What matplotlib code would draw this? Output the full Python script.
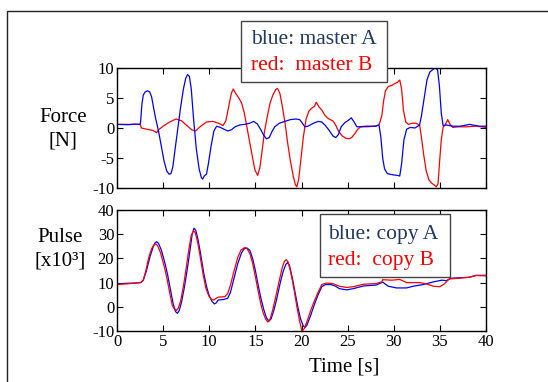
import matplotlib
matplotlib.use("Agg")
import matplotlib.pyplot as plt
from matplotlib.patches import Rectangle

# ---------------- data ----------------
force_a_t = [0, 1.2, 2.0, 2.5, 2.56, 2.7, 2.85, 3.05, 3.3, 3.55, 3.75, 3.95, 4.2, 4.5, 4.8, 5.1,
             5.4, 5.65, 5.85, 6.05, 6.3, 6.6, 6.9, 7.2, 7.45, 7.65, 7.85, 8.05, 8.3, 8.6, 8.9,
             9.15, 9.3, 9.45, 9.7, 9.9, 10.2, 10.5, 10.8, 11.2, 11.6, 12.0, 12.4, 12.8, 13.3,
             13.8, 14.4, 14.8, 15.2, 15.6, 15.9, 16.2, 16.5, 16.8, 17.1, 17.6, 18.2, 18.8,
             19.4, 19.8, 20.1, 20.36, 20.7, 21.3, 21.8, 22.2, 22.6, 23.0, 23.4, 23.7, 24.0,
             24.3, 24.7, 25.1, 25.4, 25.7, 26.0, 26.3, 27.0, 28.0, 28.4, 28.6, 28.8, 29.0,
             29.3, 29.9, 30.4, 30.65, 30.85, 31.1, 31.4, 31.8, 32.3, 32.8, 33.0, 33.3, 33.6,
             33.9, 34.2, 34.5, 34.75, 34.95, 35.15, 35.35, 35.7, 36.4, 37.2, 38.2, 39.3, 40.0]
force_a_v = [0.6, 0.55, 0.65, 0.6, 1.0, 4.0, 5.5, 6.0, 6.2, 6.0, 5.2, 3.5, 1.5, -0.5, -3.0, -5.5,
             -7.2, -7.7, -7.6, -6.5, -3.5, 0.0, 3.5, 6.5, 8.3, 8.9, 8.6, 6.5, 1.5, -3.5, -6.8,
             -8.3, -8.5, -8.0, -7.7, -6.0, -3.0, -0.5, 0.3, 0.1, -0.2, -0.5, -0.3, 0.2, 0.5,
             0.6, 0.8, 1.1, 0.7, -0.3, -1.2, -1.8, -1.6, -0.6, 0.2, 0.8, 1.1, 1.4,
             1.5, 1.4, 0.8, 0.2, 0.3, 0.8, 1.1, 1.0, 0.4, -0.4, -1.3, -1.6, -1.1,
             0.2, 0.9, 1.3, 1.7, 1.0, 0.2, 0.2, 0.3, 0.3, 0.5, -1.5, -5.0, -6.8,
             -7.6, -7.8, -7.9, -8.0, -6.0, -2.0, -0.2, 0.1, 0.0, 0.5, 2.0, 5.0, 8.0,
             9.3, 9.7, 10.0, 9.7, 7.0, 2.5, 0.4, 0.5, 0.3, 0.3, 0.6, 0.3, 0.3]

force_b_t = [0, 1.2, 2.0, 2.5, 2.65, 3.2, 3.9, 4.3, 4.5, 5.0, 5.7, 6.4, 7.0, 7.5, 8.1, 8.5, 9.0,
             9.7, 10.4, 11.0, 11.5, 11.8, 12.1, 12.4, 12.6, 12.85, 13.2, 13.5, 13.8, 14.1,
             14.4, 14.7, 14.95, 15.25, 15.5, 15.75, 16.0, 16.3, 16.6, 16.9, 17.2, 17.4, 17.65,
             17.9, 18.2, 18.5, 18.8, 19.1, 19.35, 19.5, 19.7, 19.95, 20.2, 20.5, 20.8, 21.1,
             21.4, 21.6, 21.9, 22.2, 22.5, 22.8, 23.1, 23.4, 23.7, 24.0, 24.4, 24.8, 25.2,
             25.5, 25.8, 26.1, 26.4, 27.0, 28.0, 28.4, 28.7, 28.9, 29.1, 29.4, 29.8, 30.1,
             30.4, 30.65, 30.85, 31.05, 31.3, 31.6, 32.0, 32.4, 32.8, 33.0, 33.25, 33.5, 33.8,
             34.1, 34.4, 34.6, 34.8, 34.95, 35.15, 35.35, 35.6, 35.85, 36.1, 36.4, 37.0, 37.8,
             38.9, 40.0]
force_b_v = [0.6, 0.6, 0.6, 0.6, 0.0, -0.2, -0.4, -0.8, -0.3, 0.3, 1.0, 1.5, 1.2, 0.5, -0.3, -0.5, 0.2,
             1.0, 1.1, 0.8, 0.4, 1.2, 3.5, 5.8, 6.5, 5.8, 5.0, 4.2, 2.5, 0.0,
             -2.5, -5.0, -7.0, -7.9, -6.5, -3.5, -0.5, 2.0, 4.2, 5.5, 6.4, 6.6, 5.8,
             3.8, 1.0, -2.5, -5.5, -8.0, -9.5, -9.8, -8.5, -5.0, -1.5, 1.5, 2.8, 3.3,
             3.6, 4.3, 3.5, 3.0, 2.2, 1.7, 1.4, 1.2, 0.5, -0.5, -1.3, -1.7, -1.8,
             -1.5, -0.9, -0.2, 0.2, 0.2, 0.3, 0.5, 2.0, 4.5, 6.2, 6.9, 7.1, 7.4,
             7.6, 8.0, 6.5, 3.0, 1.0, 0.6, 0.8, 0.8, 0.5, -1.5, -4.5, -7.0, -8.6,
             -9.2, -9.5, -9.8, -9.3, -6.0, -2.0, 0.1, 0.6, 1.4, 0.6, 0.1, 0.2, 0.2,
             0.3, 0.1]

pulse_a_t = [0, 1.05, 1.77, 2.56, 2.85, 3.2, 3.6, 3.9, 4.1, 4.3, 4.5, 4.8, 5.2, 5.5, 5.8, 6.1,
             6.35, 6.55, 6.75, 7.0, 7.3, 7.6, 7.9, 8.15, 8.35, 8.55, 8.8, 9.1, 9.4, 9.7, 10.0,
             10.3, 10.55, 10.75, 10.97, 11.5, 12.0, 12.3, 12.7, 13.1, 13.5, 13.8, 14.1, 14.4,
             14.7, 15.0, 15.3, 15.6, 15.9, 16.2, 16.45, 16.7, 17.0, 17.3, 17.7, 18.0, 18.3,
             18.5, 18.7, 19.0, 19.3, 19.6, 19.9, 20.2, 20.4, 20.6, 21.0, 21.4, 21.8, 22.2,
             22.6, 23.2, 23.7, 24.1, 24.9, 25.6, 26.7, 28.1, 28.8, 29.4, 30.3, 31.4, 32.1,
             33.2, 34.3, 35.2, 35.7, 36.2, 37.1, 38.2, 38.9, 40.0]
pulse_a_v = [9.5, 9.7, 9.8, 10.0, 11.0, 15.0, 21.0, 24.5, 26.3, 26.9, 26.2, 23.5, 18.0, 13.0, 7.0, 1.0,
             -2.0, -2.7, -1.5, 2.0, 8.0, 15.0, 23.0, 30.0, 32.5, 31.5, 27.5, 21.0, 14.0, 8.5, 4.5,
             2.2, 1.2, 1.6, 2.8, 3.0, 3.5, 6.0, 12.0, 18.0, 22.3, 24.0, 24.3, 23.3,
             20.0, 15.0, 9.0, 3.5, -1.0, -4.5, -6.0, -5.0, -1.5, 3.0, 10.0, 14.5, 17.5,
             18.3, 17.0, 12.0, 6.0, 0.0, -5.0, -8.0, -8.5, -7.5, -3.5, 1.0, 5.0, 8.3,
             9.2, 9.2, 8.5, 7.5, 7.0, 7.5, 8.6, 9.0, 10.2, 8.5, 7.8, 7.8, 8.5,
             9.2, 10.3, 11.0, 10.8, 11.8, 12.0, 12.2, 13.0, 13.0]

pulse_b_t = [0, 1.77, 2.56, 2.85, 3.1, 3.45, 3.75, 4.0, 4.2, 4.4, 4.7, 5.1, 5.4, 5.7, 6.0,
             6.25, 6.45, 6.65, 6.9, 7.2, 7.5, 7.8, 8.05, 8.3, 8.5, 8.75, 9.05, 9.35, 9.65,
             9.95, 10.25, 10.5, 10.75, 11.0, 11.7, 12.0, 12.3, 12.7, 13.1, 13.45, 13.85, 14.1,
             14.4, 14.7, 15.0, 15.3, 15.6, 15.85, 16.1, 16.35, 16.6, 16.9, 17.2, 17.6, 17.9,
             18.15, 18.35, 18.55, 18.85, 19.2, 19.5, 19.8, 20.05, 20.3, 20.6, 21.0, 21.4,
             21.8, 22.2, 22.7, 23.4, 24.1, 24.9, 25.6, 26.7, 28.1, 28.7, 28.8, 29.8, 30.65,
             31.4, 32.8, 33.5, 34.3, 35.0, 35.5, 36.0, 37.1, 38.2, 38.9, 40.0]
pulse_b_v = [9.2, 9.7, 10.0, 11.0, 14.5, 20.5, 24.0, 25.6, 26.0, 25.3, 22.5, 17.0, 12.0, 6.0, 0.5,
             -1.0, -1.5, -0.5, 2.5, 8.5, 16.0, 24.0, 29.5, 31.5, 30.5, 26.5, 20.0, 13.0, 7.5,
             4.5, 3.0, 2.8, 3.5, 4.0, 4.2, 5.5, 9.0, 15.0, 20.5, 23.5, 24.5, 24.0,
             22.0, 18.0, 12.5, 6.5, 1.0, -2.5, -5.0, -6.3, -5.0, -1.0, 4.0, 11.0, 16.0,
             18.8, 19.5, 18.5, 14.0, 7.0, 0.0, -6.0, -10.0, -9.0, -6.0, -1.5, 2.5,
             6.0, 9.2, 9.8, 9.6, 8.5, 8.0, 8.3, 9.3, 9.6, 10.3, 11.2, 11.0, 11.3,
             10.0, 10.0, 9.5, 8.5, 8.3, 9.5, 11.5, 11.8, 12.2, 12.9, 12.8]

x_ticks = [0, 5, 10, 15, 20, 25, 30, 35, 40]
force_ticks = [-10, -5, 0, 5, 10]
pulse_ticks = [-10, 0, 10, 20, 30, 40]

# ---------------- figure ----------------
plt.rcParams['font.family'] = ['Liberation Serif', 'DejaVu Serif']
W, H = 548, 382
fig = plt.figure(figsize=(W / 100, H / 100), dpi=100)

def fx(px):
    return px / W

def fy(py):
    return 1 - py / H

ax1 = fig.add_axes([fx(117), fy(188), fx(486) - fx(117), fy(68) - fy(188)])
ax2 = fig.add_axes([fx(117), fy(331), fx(486) - fx(117), fy(210) - fy(331)])

BLUE = '#0000ff'
RED = '#ff0000'
ax1.plot(force_b_t, force_b_v, color=RED, lw=0.9)
ax1.plot(force_a_t, force_a_v, color=BLUE, lw=0.9)
ax2.plot(pulse_a_t, pulse_a_v, color=BLUE, lw=0.9)
ax2.plot(pulse_b_t, pulse_b_v, color=RED, lw=0.9)

for ax, yt, yl in [(ax1, force_ticks, (-10, 10)), (ax2, pulse_ticks, (-10, 40))]:
    ax.set_xlim(0, 40)
    ax.set_ylim(*yl)
    ax.set_xticks(x_ticks)
    ax.set_yticks(yt)
    ax.tick_params(direction='in', length=4, width=0.8, top=True, right=True,
                   labelsize=12, pad=2, colors='black')
    for s in ax.spines.values():
        s.set_linewidth(1.0)

ax1.set_xticklabels([])
ax1.set_yticklabels([str(v) for v in force_ticks])
ax2.set_xticklabels([str(v) for v in x_ticks])
ax2.set_yticklabels([str(v) for v in pulse_ticks])

# y labels
fig.text(fx(63), fy(129), "Force\n[N]", ha='center', va='center', fontsize=15, linespacing=1.3)
fig.text(fx(60), fy(249), "Pulse\n[x10³]", ha='center', va='center', fontsize=15, linespacing=1.3)
fig.text(fx(344), fy(367), "Time [s]", ha='center', va='center', fontsize=15)

# outer frame
fig.patches.append(Rectangle((fx(7), -0.05), 1.2, fy(11) + 0.05, transform=fig.transFigure,
                             fill=False, edgecolor='#222222', lw=1.0, zorder=1))

# legend boxes
NAVY = '#1f3864'
fig.patches.append(Rectangle((fx(241), fy(82)), fx(387) - fx(241), fy(21) - fy(82),
                             transform=fig.transFigure, facecolor='white',
                             edgecolor='#444444', lw=1.0, zorder=5))
fig.text(fx(251), fy(40), "blue: master A", color=NAVY, fontsize=15.5, va='center', ha='left', zorder=6)
fig.text(fx(251), fy(66), "red:  master B", color=RED, fontsize=15.5, va='center', ha='left', zorder=6)

fig.patches.append(Rectangle((fx(320), fy(277)), fx(450) - fx(320), fy(214) - fy(277),
                             transform=fig.transFigure, facecolor='white',
                             edgecolor='#444444', lw=1.0, zorder=5))
fig.text(fx(328), fy(234), "blue: copy A", color=NAVY, fontsize=15.5, va='center', ha='left', zorder=6)
fig.text(fx(328), fy(261), "red:  copy B", color=RED, fontsize=15.5, va='center', ha='left', zorder=6)

fig.savefig("out.png", dpi=100)
